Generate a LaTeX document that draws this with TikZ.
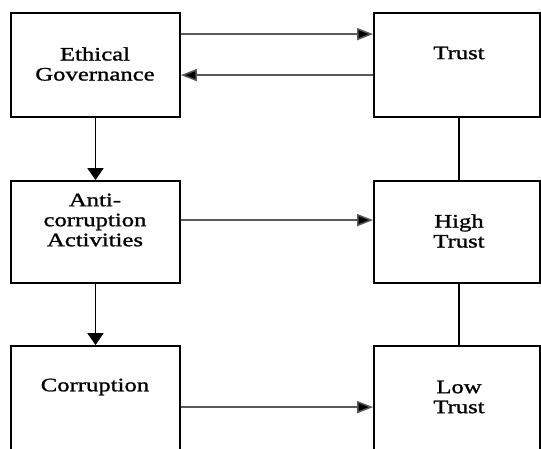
\documentclass[tikz,border=0pt]{standalone}
\usepackage{fontspec}
\setmainfont{Liberation Serif}[FakeStretch=1.3,FakeBold=1.2]
\usetikzlibrary{arrows.meta,calc}
\begin{document}
\begin{tikzpicture}[x=1pt,y=-1pt,
  box/.style={draw=black,line width=1.8pt,rectangle,inner sep=0pt},
  txt/.style={align=center,font=\fontsize{19}{20}\selectfont,inner sep=0pt},
  harr/.style={draw=black!65,line width=1.5pt,-{Triangle[length=16pt,width=12pt,fill=black]}},
  varr/.style={draw=black,line width=1.8pt,-{Triangle[length=12pt,width=16pt]}},
  link/.style={draw=black,line width=1.8pt}]
\useasboundingbox (0,0) rectangle (541,448);
\fill[white] (0,0) rectangle (541,448);
% boxes
\node[box,minimum width=169pt,minimum height=104pt] (eg) at (95.5,65) {};
\node[box,minimum width=166pt,minimum height=104pt] (tr) at (457,65) {};
\node[box,minimum width=169pt,minimum height=102pt] (ac) at (95.5,232) {};
\node[box,minimum width=166pt,minimum height=102pt] (ht) at (457,232) {};
\node[box,minimum width=169pt,minimum height=120pt] (co) at (95.5,406) {};
\node[box,minimum width=166pt,minimum height=120pt] (lt) at (457,406) {};
% texts
\node[txt] (egt) at (95,64) {Ethical\\Governance};
\node[txt] (trt) at (459,53) {Trust};
\node[txt] (act) at (95,220) {Anti-\\corruption\\Activities};
\node[txt] (htt) at (459,231) {High\\Trust};
\node[txt] (cot) at (95,387) {Corruption};
\node[txt] (ltt) at (459,397) {Low\\Trust};
% connectors
\draw[harr] ([yshift=-22pt]eg.north east) -- ([yshift=-22pt]tr.north west);
\draw[harr] ([yshift=-63pt]tr.north west) -- ([yshift=-63pt]eg.north east);
\draw[harr] ([yshift=-40pt]ac.north east) -- ([yshift=-40pt]ht.north west);
\draw[harr] ([yshift=-62pt]co.north east) -- ([yshift=-62pt]lt.north west);
\draw[varr] (eg.south) -- (ac.north);
\draw[varr] (ac.south) -- (co.north);
\draw[link] ([xshift=2pt]tr.south) -- ([xshift=2pt]ht.north);
\draw[link] ([xshift=2pt]ht.south) -- ([xshift=2pt]lt.north);
\end{tikzpicture}
\end{document}
